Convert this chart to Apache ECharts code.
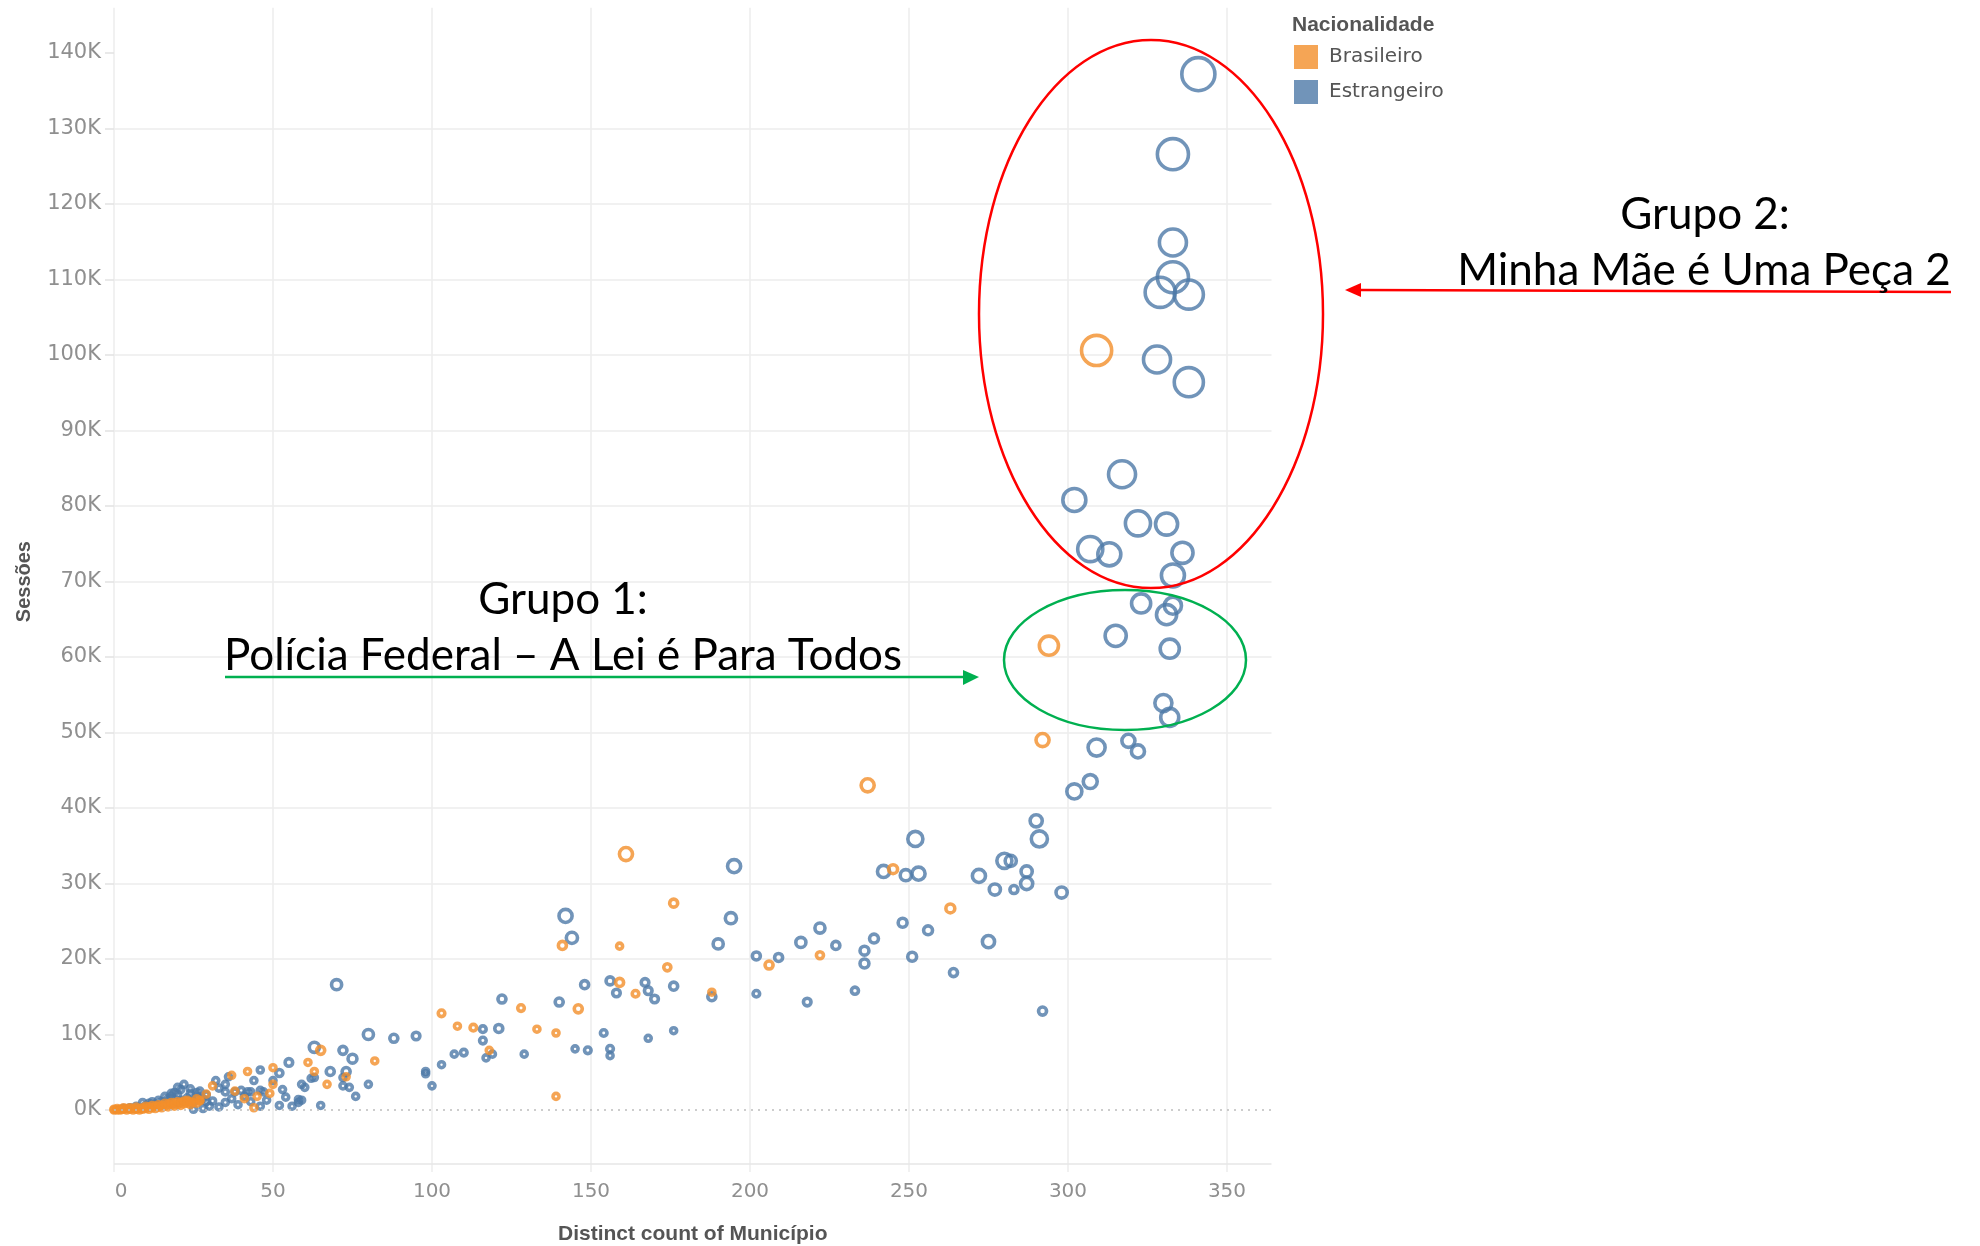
<!DOCTYPE html>
<html>
<head>
<meta charset="utf-8">
<script src="https://cdn.jsdelivr.net/npm/echarts@6/dist/echarts.min.js"></script>
<style>
html,body{margin:0;padding:0;background:#fff;overflow:hidden;}
#chart{width:1980px;height:1246px;}
</style>
</head>
<body>
<div id="chart"></div>
<script>
// ---------- DATA ----------
const categories = ['Brasileiro', 'Estrangeiro'];
const xTicks = [0, 50, 100, 150, 200, 250, 300, 350];
const yTicks = [0, 10000, 20000, 30000, 40000, 50000, 60000, 70000, 80000, 90000, 100000, 110000, 120000, 130000, 140000];

// [distinct count of Município, Sessões, size measure]
const brasileiro = [
  [309, 100600, 114], [294, 61500, 49], [292, 49000, 25], [237, 43000, 25],
  [245, 31900, 13], [263, 26700, 13], [161, 33900, 25], [141, 21800, 11],
  [159, 21700, 5], [176, 27400, 11], [222, 20500, 9], [206, 19200, 11],
  [188, 15600, 5], [174, 18900, 9], [159, 16900, 11], [164, 15400, 8],
  [146, 13400, 11], [128, 13500, 8], [103, 12800, 8], [108, 11100, 5],
  [113, 10900, 8], [133, 10700, 5], [139, 10200, 5], [118, 7900, 5],
  [139, 1800, 5], [65, 7900, 11], [61, 6300, 5], [82, 6500, 5],
  [63, 5100, 5], [73, 4400, 5], [67, 3400, 5], [50, 5600, 5],
  [50, 3400, 5], [49, 2200, 5], [42, 5100, 5], [37, 4600, 5],
  [31, 3200, 5], [38, 2500, 5], [45, 1800, 5], [41, 1500, 5],
  [44, 300, 5], [29, 2100, 5], [27, 1300, 5], [23, 1300, 5],
  [23, 1100, 5], [26, 1500, 5],
  [0, 0, 5], [0, 100, 5], [1, 0, 5], [1, 200, 5], [2, 100, 5], [2, 0, 5],
  [3, 100, 5], [3, 300, 5], [4, 0, 5], [4, 200, 5], [5, 100, 5], [5, 300, 5],
  [6, 200, 5], [6, 0, 5], [7, 100, 5], [7, 400, 5], [8, 200, 5], [8, 0, 5],
  [9, 300, 5], [9, 100, 5], [10, 200, 5], [10, 500, 5], [11, 100, 5], [11, 400, 5],
  [12, 300, 5], [12, 600, 5], [13, 200, 5], [13, 500, 5], [14, 400, 5], [14, 700, 5],
  [15, 300, 5], [15, 600, 5], [16, 500, 5], [16, 900, 5], [17, 400, 5], [17, 800, 5],
  [18, 600, 5], [18, 1000, 5], [19, 500, 5], [19, 900, 5], [20, 700, 5], [20, 1100, 5],
  [21, 600, 5], [21, 1000, 5], [22, 800, 5], [22, 1200, 5], [23, 900, 5], [24, 700, 5],
  [24, 1100, 5], [25, 1000, 5], [26, 900, 5], [27, 1200, 5]
];

const estrangeiro = [
  [341, 137200, 136], [333, 126600, 121], [333, 114900, 93], [333, 110300, 121],
  [329, 108300, 114], [338, 108000, 107], [328, 99400, 93], [338, 96400, 107],
  [317, 84200, 93], [302, 80800, 69], [322, 77700, 81], [331, 77600, 64],
  [307, 74300, 81], [313, 73600, 69], [336, 73800, 59], [333, 70800, 69],
  [323, 67100, 49], [333, 66800, 40], [331, 65600, 54], [315, 62800, 59],
  [332, 61100, 49], [330, 53900, 40], [332, 52000, 44], [309, 48000, 40],
  [319, 48900, 25], [322, 47500, 25], [307, 43500, 28], [302, 42200, 32],
  [290, 38300, 22], [291, 35900, 36], [252, 35900, 32], [242, 31600, 22],
  [249, 31100, 19], [253, 31300, 25], [272, 31000, 25], [280, 33000, 32],
  [282, 33000, 19], [287, 31600, 19], [287, 30000, 22], [283, 29200, 11],
  [277, 29200, 19], [298, 28800, 19], [248, 24800, 13], [256, 23800, 13],
  [239, 22700, 13], [236, 21100, 13], [236, 19400, 13], [275, 22300, 22],
  [251, 20300, 13], [264, 18200, 11], [233, 15800, 9], [292, 13100, 11],
  [195, 32300, 25], [142, 25700, 25], [144, 22800, 19], [194, 25400, 19],
  [190, 22000, 16], [222, 24100, 16], [216, 22200, 16], [227, 21800, 11],
  [202, 20400, 11], [209, 20200, 11], [202, 15400, 8], [218, 14300, 10],
  [188, 15000, 11], [176, 16400, 11], [156, 17100, 11], [158, 15500, 10],
  [167, 16900, 10], [168, 15800, 10], [170, 14700, 10], [148, 16600, 11],
  [140, 14300, 11], [122, 14700, 11], [116, 10700, 8], [121, 10800, 11],
  [116, 9200, 8], [154, 10200, 8], [95, 9800, 10], [110, 7600, 8],
  [107, 7400, 5], [117, 6900, 5], [119, 7400, 5], [129, 7400, 5],
  [145, 8100, 5], [149, 7900, 8], [156, 8100, 8], [156, 7200, 5],
  [168, 9500, 5], [176, 10500, 5], [98, 5100, 5], [98, 4800, 5],
  [103, 6000, 5], [100, 3200, 5],
  [70, 16600, 16], [80, 10000, 16], [88, 9500, 11], [63, 8300, 16],
  [72, 7900, 11], [75, 6800, 13], [68, 5100, 11], [73, 5100, 11],
  [62, 4200, 5], [63, 4300, 5], [72, 4300, 5], [59, 3400, 5],
  [60, 3000, 5], [72, 3200, 5], [74, 3000, 5], [80, 3400, 5],
  [76, 1800, 5], [65, 600, 5], [59, 1300, 5],
  [55, 6300, 10], [52, 4900, 9], [50, 3900, 5], [46, 5300, 5],
  [44, 3900, 5], [32, 3900, 5], [22, 3400, 5], [21, 2700, 5],
  [19, 2300, 5], [16, 1800, 5], [35, 3400, 5], [35, 2400, 5],
  [38, 2400, 5], [42, 2400, 5], [43, 2400, 5], [47, 2400, 5],
  [29, 2000, 5], [28, 1500, 5], [30, 500, 5], [33, 400, 5],
  [35, 1000, 5], [36, 4400, 5], [56, 500, 5], [58, 1000, 5],
  [58, 1400, 5], [53, 2700, 5], [26, 1800, 5], [25, 1100, 5],
  [18, 1800, 5], [12, 1100, 5], [9, 1000, 5], [28, 200, 5],
  [25, 100, 5], [46, 500, 5], [41, 1800, 5], [40, 2600, 5],
  [46, 2600, 5], [29, 1100, 5], [20, 3000, 5], [20, 2000, 5],
  [17, 1500, 5], [14, 1300, 5], [13, 800, 5], [11, 900, 5],
  [10, 600, 5], [7, 500, 5], [5, 300, 5], [3, 200, 5],
  [23, 1600, 5], [24, 2200, 5],
  [24, 2800, 5], [27, 2500, 5], [18, 2200, 5], [15, 1100, 5],
  [21, 1300, 5], [26, 2300, 5], [31, 1200, 5], [33, 2900, 5],
  [37, 1500, 5], [39, 700, 5], [43, 1100, 5], [48, 1300, 5],
  [52, 600, 5], [54, 1700, 5]
];

// ---------- CHART ----------
const ORANGE = '#F28E2B';
const BLUE = '#4E79A7';
const tickFont = "'DejaVu Sans', sans-serif";
const titleFont = "'Liberation Sans', Arial, sans-serif";
const noteFont = "Lato, 'Open Sans', sans-serif";
const RING = 3.6;

function bubbleSize(v) {
  return Math.max(6, 3 * Math.sqrt(v[2]) - 1.9);
}

const gridColors = ['rgba(0,0,0,0)'];
for (let i = 0; i < 30; i++) gridColors.push('#ececec');

const GRID_LEFT = 114, GRID_TOP = 7.7, GRID_W = 1157.5;

const chart = echarts.init(document.getElementById('chart'), null, {renderer: 'canvas'});

chart.setOption({
  animation: false,
  backgroundColor: '#ffffff',
  title: {
    text: 'Nacionalidade',
    left: 1292, top: 15, padding: 0,
    textStyle: {fontFamily: titleFont, fontSize: 21, fontWeight: 'bold', color: '#555555'}
  },
  legend: {
    orient: 'vertical',
    left: 1294, top: 45, padding: 0,
    itemWidth: 24, itemHeight: 24, itemGap: 11,
    icon: 'rect',
    textStyle: {fontFamily: tickFont, fontSize: 20, color: '#555555', padding: [0, 0, 0, 6]},
    data: [
      {name: categories[0], itemStyle: {color: ORANGE, borderWidth: 0}},
      {name: categories[1], itemStyle: {color: BLUE, borderWidth: 0}}
    ]
  },
  grid: [
    {left: GRID_LEFT, top: GRID_TOP, width: GRID_W, height: 1177.8, containLabel: false, outerBoundsMode: 'none'},
    {left: GRID_LEFT, top: GRID_TOP, width: GRID_W, height: 1164.3, containLabel: false, outerBoundsMode: 'none'}
  ],
  xAxis: [
    {
      type: 'value', gridIndex: 0,
      min: 0, max: 364, interval: 50,
      name: 'Distinct count of Município',
      nameLocation: 'middle', nameGap: 38,
      nameTextStyle: {fontFamily: titleFont, fontSize: 21, fontWeight: 'bold', color: '#555555'},
      axisLine: {show: false},
      axisTick: {show: false},
      axisLabel: {
        customValues: xTicks,
        margin: -4,
        fontFamily: tickFont, fontSize: 20, color: '#8f8f8f',
        formatter: v => (v === 0 ? '{first|0}' : (xTicks.indexOf(v) >= 0 ? String(v) : '')),
        rich: {first: {fontFamily: tickFont, fontSize: 20, color: '#8f8f8f', padding: [0, 0, 0, 14]}}
      },
      splitLine: {show: false}
    },
    {
      type: 'value', gridIndex: 1,
      min: 0, max: 364, interval: 50,
      axisLine: {show: false}, axisTick: {show: false}, axisLabel: {show: false},
      splitLine: {show: true, showMaxLine: false, lineStyle: {color: '#ececec', width: 1.5}}
    }
  ],
  yAxis: [
    {
      type: 'value', gridIndex: 0,
      min: -10000, max: 146000, interval: 10000,
      name: 'Sessões',
      nameLocation: 'middle', nameGap: 80, nameRotate: 90,
      nameTextStyle: {fontFamily: titleFont, fontSize: 20, fontWeight: 'bold', color: '#555555', padding: [0, 0, 0, 30]},
      axisLine: {show: false},
      axisTick: {show: true, customValues: yTicks, length: 9, lineStyle: {color: '#e2e2e2', width: 1.5}},
      axisLabel: {
        customValues: yTicks,
        margin: 13,
        padding: [4, 0, 0, 0],
        fontFamily: tickFont, fontSize: 21, color: '#8f8f8f',
        formatter: v => (yTicks.indexOf(v) >= 0 ? (v / 1000) + 'K' : '')
      },
      splitLine: {show: true, showMinLine: false, showMaxLine: false, lineStyle: {color: gridColors, width: 1.5}}
    },
    {
      type: 'value', gridIndex: 1, min: 0, max: 1, show: false
    }
  ],
  series: [
    {
      name: categories[1],
      type: 'scatter',
      xAxisIndex: 0, yAxisIndex: 0,
      data: estrangeiro,
      symbol: 'circle',
      symbolSize: bubbleSize,
      itemStyle: {color: 'rgba(0,0,0,0)', borderColor: BLUE, borderWidth: RING},
      z: 2,
      markLine: {
        silent: true, symbol: ['none', 'none'], label: {show: false},
        data: [
          {yAxis: 0, lineStyle: {color: '#bdbdbd', width: 1.5, type: [2, 5]}},
          {yAxis: -7150, lineStyle: {color: '#e6e6e6', width: 1.5, type: 'solid'}}
        ]
      }
    },
    {
      name: categories[0],
      type: 'scatter',
      xAxisIndex: 0, yAxisIndex: 0,
      data: brasileiro,
      symbol: 'circle',
      symbolSize: bubbleSize,
      itemStyle: {color: 'rgba(0,0,0,0)', borderColor: ORANGE, borderWidth: RING},
      z: 3
    }
  ],
  graphic: [
    // Grupo 2 annotation
    {type: 'ellipse', shape: {cx: 1151, cy: 314, rx: 172, ry: 274}, style: {fill: 'none', stroke: '#FF0000', lineWidth: 2.5}, z: 10},
    {type: 'line', shape: {x1: 1360, y1: 290, x2: 1951, y2: 292}, style: {stroke: '#FF0000', lineWidth: 2.5}, z: 10},
    {type: 'polygon', shape: {points: [[1345, 290], [1361, 283], [1361, 297]]}, style: {fill: '#FF0000'}, z: 10},
    {type: 'text', x: 1705, y: 215, style: {text: 'Grupo 2:', fontFamily: noteFont, fontSize: 44, fill: '#000', align: 'center', verticalAlign: 'middle'}, z: 10},
    {type: 'text', x: 1704, y: 271, style: {text: 'Minha Mãe é Uma Peça 2', fontFamily: noteFont, fontSize: 44, fill: '#000', align: 'center', verticalAlign: 'middle'}, z: 10},
    // Grupo 1 annotation
    {type: 'ellipse', shape: {cx: 1125, cy: 660, rx: 121, ry: 70}, style: {fill: 'none', stroke: '#00B050', lineWidth: 2.5}, z: 10},
    {type: 'line', shape: {x1: 225, y1: 677, x2: 965, y2: 677}, style: {stroke: '#00B050', lineWidth: 2.5}, z: 10},
    {type: 'polygon', shape: {points: [[979, 677], [963, 670], [963, 685]]}, style: {fill: '#00B050'}, z: 10},
    {type: 'text', x: 563, y: 600, style: {text: 'Grupo 1:', fontFamily: noteFont, fontSize: 44, fill: '#000', align: 'center', verticalAlign: 'middle'}, z: 10},
    {type: 'text', x: 563, y: 656, style: {text: 'Polícia Federal – A Lei é Para Todos', fontFamily: noteFont, fontSize: 44, fill: '#000', align: 'center', verticalAlign: 'middle'}, z: 10}
  ]
});
</script>
</body>
</html>
